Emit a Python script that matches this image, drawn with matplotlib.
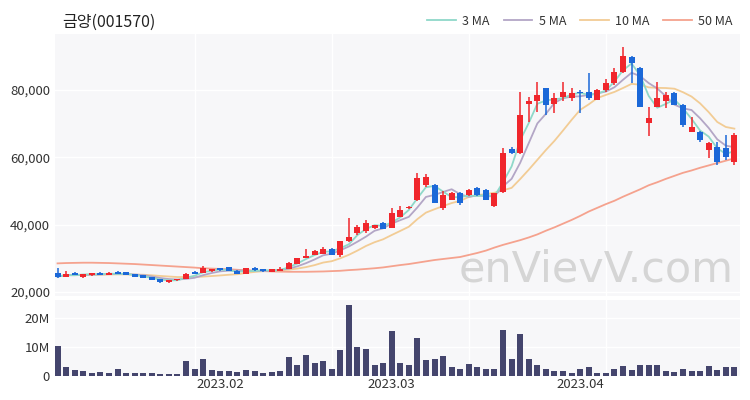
import matplotlib
matplotlib.use("Agg")
import matplotlib.pyplot as plt
from matplotlib.ticker import FuncFormatter
import numpy as np
import pandas as pd

# fonts: Korean title needs a CJK family
plt.rcParams['font.family'] = ['Noto Sans CJK KR', 'DejaVu Sans']

title = "금양(001570)"

# daily candles (KRW)
open_ = [25700, 24600, 25500, 24500, 24900, 25700, 25100, 26000, 25800, 25300,
         25000, 24400, 23800, 22900, 23500, 24000, 25900, 25600, 26100, 27000,
         27300, 26200, 25400, 27000, 26800, 26000, 26200, 26800, 28400, 30200,
         31000, 31400, 32900, 31000, 35000, 37500, 38000, 39100, 40500, 39000,
         42400, 44900, 47400, 51800, 51800, 44900, 47400, 49300, 48800, 50900,
         50300, 45400, 49800, 62600, 61300, 75800, 76600, 80500, 75700, 78000,
         77600, 79500, 79300, 77100, 80000, 82000, 85500, 89900, 86500, 70100,
         75100, 76600, 79000, 75600, 67600, 67600, 62200, 63200, 62700, 58700]
high = [27200, 26300, 25800, 25300, 25600, 25800, 25900, 26200, 25900, 25400,
        25100, 24500, 23900, 23600, 24000, 25500, 26100, 27600, 26900, 27200,
        27500, 26400, 27200, 27300, 26900, 26800, 27300, 28900, 30200, 32800,
        32400, 33500, 33100, 35200, 42000, 40000, 41300, 40000, 40700, 45000,
        45500, 45600, 55400, 55000, 52000, 49900, 49800, 49600, 50700, 51200,
        50500, 49500, 62800, 63200, 79500, 78000, 82500, 80700, 79000, 82500,
        80500, 80000, 85000, 80200, 83200, 86500, 92900, 90100, 86800, 75000,
        82500, 79500, 79300, 75800, 72100, 67800, 64500, 64600, 66700, 67200]
low = [24300, 24400, 24900, 24300, 24800, 25000, 25000, 25300, 25000, 24500,
       24200, 23600, 22800, 22600, 23400, 23900, 25200, 25500, 26000, 26300,
       26200, 25200, 25300, 26300, 26000, 25900, 26100, 26700, 28300, 30000,
       30900, 31200, 31000, 30500, 34900, 37000, 37600, 38800, 38600, 38900,
       42200, 44700, 47000, 51200, 46300, 44500, 47200, 45700, 48500, 48600,
       47200, 45200, 49500, 60900, 61000, 70500, 73600, 72600, 73100, 76600,
       76600, 73300, 77000, 77000, 79500, 81500, 85000, 82000, 75000, 66200,
       75000, 74600, 75500, 69000, 67400, 64500, 59700, 57800, 59200, 57800]
close = [24600, 25400, 25000, 25200, 25500, 25100, 25700, 25400, 25100, 24600,
         24300, 23700, 23100, 23500, 23900, 25300, 25300, 27000, 26700, 26400,
         26300, 25300, 27000, 26400, 26100, 26700, 26700, 28700, 30000, 30700,
         32200, 32900, 31100, 35000, 36400, 39300, 40400, 39800, 38700, 43400,
         44400, 45300, 53800, 54300, 46400, 48800, 49300, 46400, 50300, 48800,
         47400, 49300, 61200, 61400, 72600, 76600, 78500, 75600, 77600, 79500,
         79000, 79000, 77600, 80000, 82000, 85500, 90100, 88000, 75100, 71600,
         77500, 78500, 75600, 69600, 69100, 65200, 64200, 58700, 60200, 66700]

# 50 day average (needs history before the window)
ma50 = [28500, 28600, 28650, 28700, 28700, 28650, 28600, 28500, 28400, 28300,
        28150, 28000, 27850, 27700, 27550, 27400, 27250, 27050, 26950, 26850,
        26750, 26600, 26450, 26300, 26200, 26100, 26050, 26000, 26000, 26000,
        26050, 26100, 26200, 26300, 26500, 26650, 26850, 27050, 27300, 27650,
        28000, 28300, 28700, 29100, 29500, 29800, 30100, 30400, 31000, 31600,
        32300, 33200, 34000, 34700, 35400, 36200, 37100, 38200, 39200, 40300,
        41400, 42600, 43900, 45000, 46100, 47100, 48300, 49400, 50500, 51700,
        52600, 53600, 54500, 55400, 56100, 56900, 57600, 58300, 59000, 59700]

# volume in millions of shares
volume_m = [10.2, 3.0, 1.9, 1.4, 1.0, 1.2, 0.9, 2.1, 0.8, 0.8,
            0.8, 0.8, 0.7, 0.7, 0.6, 5.0, 2.4, 5.9, 2.0, 1.5,
            1.5, 1.2, 1.9, 1.4, 0.9, 1.3, 1.7, 6.5, 3.5, 7.0,
            4.3, 5.1, 2.1, 8.8, 24.5, 9.9, 9.2, 3.5, 4.4, 15.5,
            4.3, 3.6, 12.9, 5.3, 5.6, 6.6, 3.0, 2.3, 4.1, 2.8,
            2.3, 2.2, 15.9, 5.6, 14.3, 5.6, 3.8, 2.4, 1.6, 1.6,
            0.9, 2.2, 2.8, 1.0, 1.0, 2.2, 3.4, 1.9, 3.8, 3.8,
            3.5, 1.5, 1.2, 2.2, 1.7, 1.5, 3.3, 1.9, 3.0, 2.9]

# month labels sit on the first trading day of each month
month_pos = [19, 39, 61]
month_labels = ["2023.02", "2023.03", "2023.04"]
grid_pos = [16, 32, 48, 64]

df = pd.DataFrame({"open": open_, "high": high, "low": low, "close": close,
                   "volume": np.array(volume_m) * 1e6, "ma50": ma50})
df["ma3"] = df["close"].rolling(3, min_periods=1).mean()
df["ma5"] = df["close"].rolling(5, min_periods=1).mean()
df["ma10"] = df["close"].rolling(10, min_periods=1).mean()
x = np.arange(len(df))

UP = "#f0262c"
DOWN = "#1b68d8"
BG = "#f7f7f9"
TXT = "#333333"

fig = plt.figure(figsize=(7.5, 4), dpi=100)
ax = fig.add_axes([0.0733, 0.26, 0.9134, 0.655])
axv = fig.add_axes([0.0733, 0.0612, 0.9134, 0.1888], sharex=ax)

for a in (ax, axv):
    a.set_facecolor(BG)
    for s in a.spines.values():
        s.set_visible(False)
    a.tick_params(length=0, colors=TXT, labelsize=9.5)
    for g in grid_pos:
        a.axvline(g, color="white", lw=1, zorder=0)

# moving averages
ax.plot(x, df["ma50"], color="#f5a28e", lw=1.3, label="50 MA", zorder=2)
ax.plot(x, df["ma10"], color="#f2cc95", lw=1.3, label="10 MA", zorder=2)
ax.plot(x, df["ma5"], color="#b3a6c6", lw=1.3, label="5 MA", zorder=2)
ax.plot(x, df["ma3"], color="#8fd8c9", lw=1.3, label="3 MA", zorder=2)

# candles
colors = [UP if c >= o else DOWN for o, c in zip(df["open"], df["close"])]
ax.vlines(x, df["low"], df["high"], colors=colors, lw=1.1, zorder=3)
body_lo = np.minimum(df["open"], df["close"])
body_h = np.maximum(np.abs(df["close"] - df["open"]), 250)
ax.bar(x, body_h, bottom=body_lo, width=0.7, color=colors, zorder=4)

ax.set_ylim(18810, 96640)
ax.set_yticks([20000, 40000, 60000, 80000])
ax.yaxis.set_major_formatter(FuncFormatter(lambda v, p: f"{int(v):,}"))
ax.grid(axis="y", color="white", lw=1, zorder=0)
ax.set_axisbelow(True)
ax.tick_params(axis="x", labelbottom=False)
ax.set_xlim(-0.3, 79.66)

# watermark
ax.text(0.79, 0.1, "enVievV.com", transform=ax.transAxes, ha="center", va="center",
        fontsize=31, color="#cfcfcf", alpha=0.85, family="DejaVu Sans", zorder=1)

# volume panel
axv.bar(x, df["volume"], width=0.7, color="#44456d", zorder=3)
axv.set_ylim(0, 26.2e6)
axv.set_yticks([0, 10e6, 20e6])
axv.set_yticklabels(["0", "10M", "20M"])
axv.grid(axis="y", color="white", lw=1, zorder=0)
axv.set_axisbelow(True)
axv.set_xticks(month_pos)
axv.set_xticklabels(month_labels)
axv.tick_params(axis="x", pad=2)

fig.text(0.083, 0.943, title, fontsize=11.5, color="#222222", va="center")

# legend above the top right corner, in 3/5/10/50 order
h, l = ax.get_legend_handles_labels()
order = [3, 2, 1, 0]
ax.legend([h[i] for i in order], [l[i] for i in order], ncol=4, frameon=False,
          loc="lower right", bbox_to_anchor=(1.0, 0.995), fontsize=9,
          handlelength=2.3, columnspacing=1.1, handletextpad=0.5,
          labelcolor=TXT, borderaxespad=0.2)

fig.savefig("out.png", dpi=100, facecolor="white")
